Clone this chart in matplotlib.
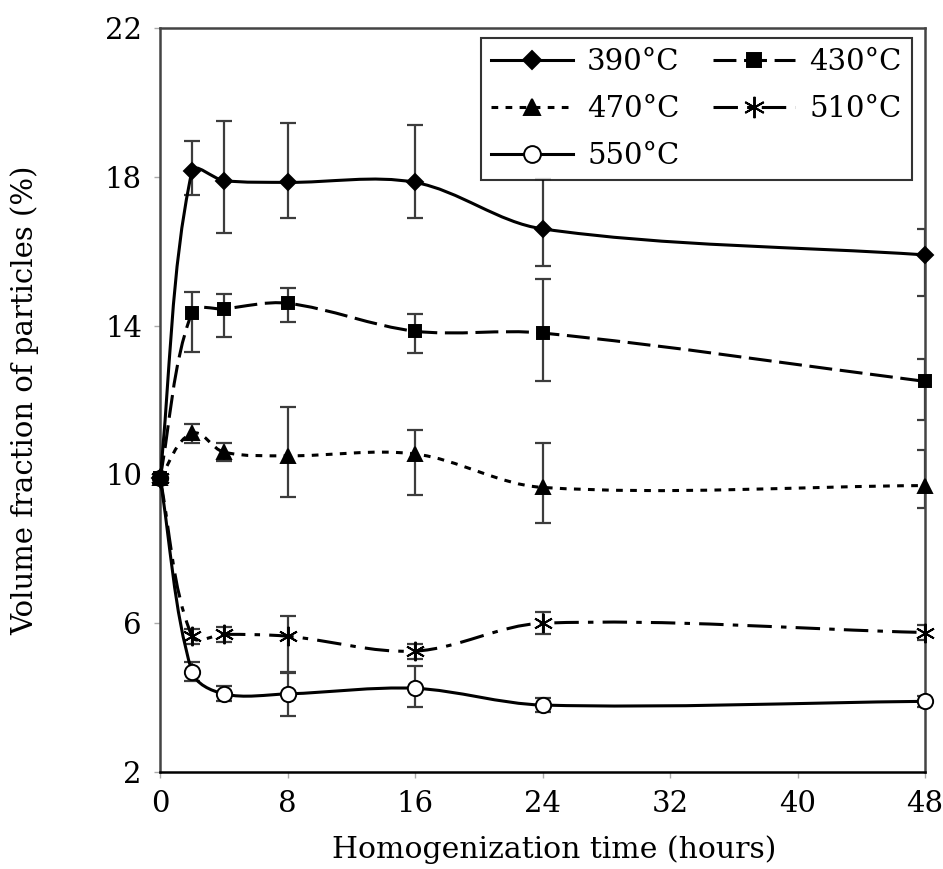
import numpy as np
import matplotlib.pyplot as plt
from matplotlib.path import Path
from matplotlib.patches import PathPatch
from matplotlib.lines import Line2D

# Homogenization time (hours)
hours = [0, 2, 4, 8, 16, 24, 48]

# Volume fraction of particles (%) for each temperature
v390 = [9.9, 18.15, 17.9, 17.85, 17.85, 16.6, 15.9]
v430 = [9.9, 14.35, 14.45, 14.6, 13.85, 13.8, 12.5]
v470 = [9.9, 11.1, 10.6, 10.5, 10.55, 9.65, 9.7]
v510 = [9.9, 5.65, 5.7, 5.65, 5.25, 6.0, 5.75]
v550 = [9.9, 4.7, 4.1, 4.1, 4.25, 3.8, 3.9]

# error bars (lower, upper)
e390_lo = [0, 0.65, 1.4, 0.95, 0.95, 1.0, 1.1]
e390_hi = [0, 0.8, 1.6, 1.6, 1.55, 1.35, 0.7]
e430_lo = [0, 1.05, 0.75, 0.5, 0.6, 1.3, 1.05]
e430_hi = [0, 0.55, 0.4, 0.4, 0.45, 1.45, 0.6]
e470_lo = [0, 0.25, 0.25, 1.1, 1.1, 0.95, 0.6]
e470_hi = [0, 0.25, 0.25, 1.3, 0.65, 1.2, 0.95]
e510_lo = [0, 0.2, 0.2, 1.0, 0.2, 0.3, 0.2]
e510_hi = [0, 0.2, 0.2, 0.55, 0.2, 0.3, 0.2]
e550_lo = [0, 0.25, 0.2, 0.6, 0.5, 0.2, 0.15]
e550_hi = [0, 0.25, 0.2, 0.6, 0.6, 0.2, 0.15]

labels = ["390°C", "430°C", "470°C", "510°C", "550°C"]

plt.rcParams['font.family'] = ['DejaVu Serif']

fig = plt.figure(figsize=(9.43, 8.69), dpi=100)
ax = fig.add_axes([0.1697, 0.1116, 0.8113, 0.8562])
ax.set_xlim(0, 48)
ax.set_ylim(2, 22)


def smooth_path(xs, ys):
    # Excel-like smoothed line, built as cubic Bezier segments in display space
    pts = ax.transData.transform(np.column_stack([xs, ys]))
    n = len(pts)
    verts = [pts[0]]
    codes = [Path.MOVETO]
    for i in range(n - 1):
        p0 = pts[max(i - 1, 0)]
        p1 = pts[i]
        p2 = pts[i + 1]
        p3 = pts[min(i + 2, n - 1)]
        seg = np.hypot(*(p2 - p1))
        d1 = p2 - p0
        d2 = p3 - p1
        c1 = p1 + d1 / np.hypot(*d1) * seg / 3
        c2 = p2 - d2 / np.hypot(*d2) * seg / 3
        verts += [c1, c2, p2]
        codes += [Path.CURVE4] * 3
    verts = ax.transData.inverted().transform(np.array(verts))
    return Path(verts, codes)


lw = 2.2
# values, err lo, err hi, linestyle, marker, size, face, marker zorder
styles = [
    (v390, e390_lo, e390_hi, '-', 'D', 8, 'k', 5),
    (v430, e430_lo, e430_hi, (0, (7.5, 2.5)), 's', 9, 'k', 8),
    (v470, e470_lo, e470_hi, (0, (2.2, 2.4)), '^', 10, 'k', 6),
    (v510, e510_lo, e510_hi, (0, (8, 3, 1.8, 3)), (6, 2, 0), 14, 'k', 7),
    (v550, e550_lo, e550_hi, '-', 'o', 11, 'white', 4),
]

handles = []
for (vals, lo, hi, ls, mk, ms, mfc, mz), lab in zip(styles, labels):
    ax.errorbar(hours[1:], vals[1:], yerr=[lo[1:], hi[1:]], fmt='none',
                ecolor='#3c3c3c', elinewidth=1.6, capsize=5.5, capthick=1.6, zorder=2)
    ax.add_patch(PathPatch(smooth_path(hours, vals), fill=False, edgecolor='k',
                           lw=lw, linestyle=ls, zorder=3))
    ax.plot(hours, vals, linestyle='none', marker=mk, ms=ms, mfc=mfc, mec='k',
            mew=1.4, clip_on=False, zorder=mz)
    handles.append(Line2D([], [], color='k', lw=lw, linestyle=ls, marker=mk, ms=ms,
                          mfc=mfc, mec='k', mew=1.4))

ax.set_xticks([0, 8, 16, 24, 32, 40, 48])
ax.set_yticks([2, 6, 10, 14, 18, 22])
ax.tick_params(labelsize=21, length=4, width=1, color='#aaaaaa')
ax.tick_params(axis='x', pad=9)
ax.tick_params(axis='y', pad=9)
for s in ax.spines.values():
    s.set_color('#444444')
    s.set_linewidth(1.8)
ax.spines['bottom'].set_color('k')

ax.set_xlabel("Homogenization time (hours)", fontsize=21.5, labelpad=16)
ax.xaxis.set_label_coords(0.515, -0.085, transform=ax.transAxes)
ax.set_ylabel("Volume fraction of particles (%)", fontsize=21)
ax.yaxis.set_label_coords(-0.158, 0.5, transform=ax.transAxes)

order = [0, 2, 4, 1, 3]
leg = ax.legend([handles[i] for i in order], [labels[i] for i in order], ncol=2,
                loc='upper right', bbox_to_anchor=(0.983, 0.9866), fontsize=21,
                frameon=True, fancybox=False, edgecolor='k', handlelength=2.8,
                handletextpad=0.5, columnspacing=1.15, labelspacing=0.65,
                borderpad=0.35, borderaxespad=0.0, markerscale=1.1)
leg.get_frame().set_linewidth(1.5)

plt.savefig("out.png", dpi=100)
